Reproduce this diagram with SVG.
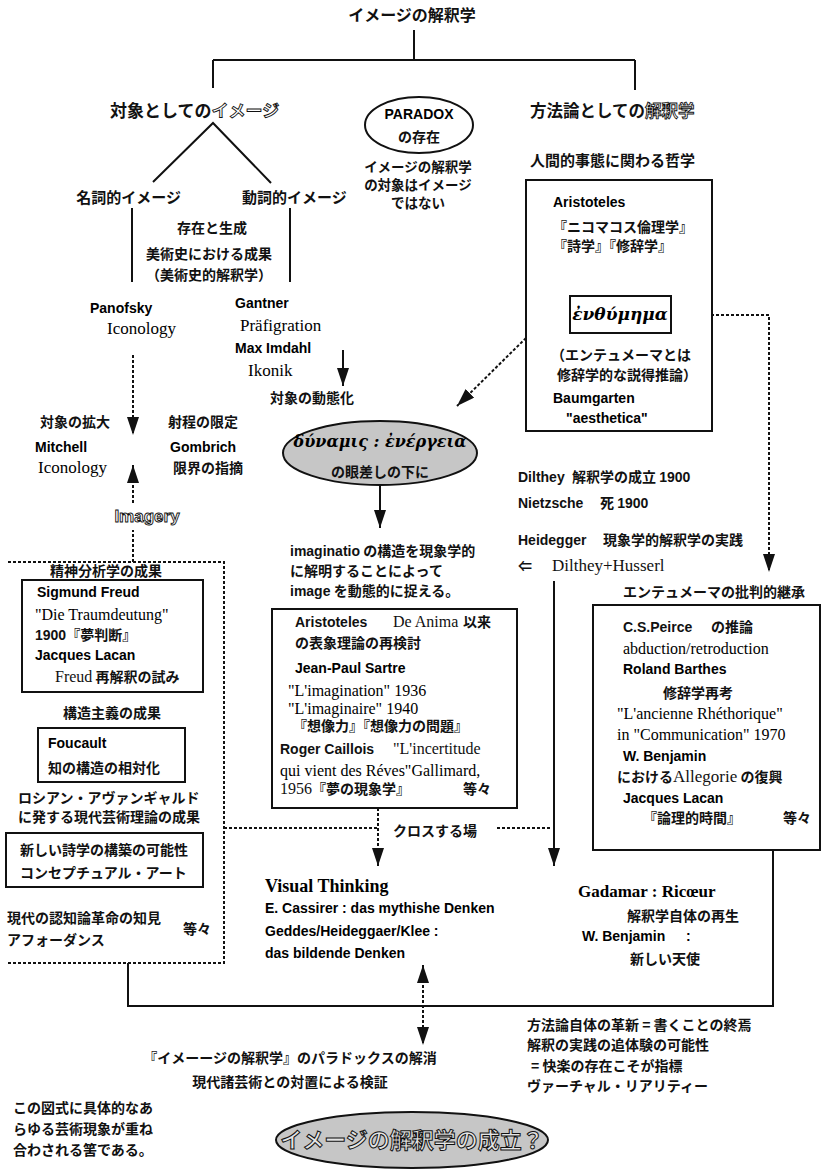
<svg xmlns="http://www.w3.org/2000/svg" width="826" height="1170" viewBox="0 0 826 1170" font-size="14">
  <defs>
    <style>
      .j { font-family: "Noto Sans CJK JP", sans-serif; font-weight: 700; fill: #111; }
      .s { font-family: "Liberation Sans", "Noto Sans CJK JP", sans-serif; font-weight: 700; }
      .r { font-family: "Liberation Serif", "Noto Sans CJK JP", serif; font-weight: 400; }
      .rb { font-family: "Liberation Serif", serif; font-weight: 700; }
      .g { font-family: "DejaVu Serif", serif; font-weight: 700; font-style: italic; }
      .o { fill: #fff; stroke: #111; stroke-width: 0.9px; }
      .oo { fill: #e4e4e4; stroke: #111; stroke-width: 1px; }
      .ln { stroke: #111; stroke-width: 2; fill: none; }
      .dt { stroke-dasharray: 3 2; }
      .box { fill: #fff; stroke: #111; stroke-width: 2; }
      .shade { fill: #c6c6c6; stroke: #111; stroke-width: 2; }
      .arr { marker-end: url(#ah); }
    </style>
    <marker id="ah" viewBox="0 0 18 12" markerWidth="18" markerHeight="12" refX="18" refY="6" orient="auto-start-reverse" markerUnits="userSpaceOnUse">
      <path d="M0,0 L18,6 L0,12 z" fill="#111"/>
    </marker>
  </defs>
  <rect width="826" height="1170" fill="#fff"/>

  <!-- connectors -->
  <g id="connectors" class="ln">
    <path d="M414,30 V60 M213,60 H635 M213,60 V88 M635,60 V90"/>
    <path d="M153,182 L213,123 L271,183"/>
    <path d="M132,208 V282 M290,208 V282"/>
    <path class="dt arr" d="M133,355 V435"/>
    <path class="arr" d="M343,350 V386"/>
    <path class="arr" d="M625,257 V295"/>
    <path class="dt arr" d="M671,315 H769 V572"/>
    <path class="dt arr" d="M526,338 L457,406"/>
    <path class="arr" d="M380,485 V528"/>
    <path class="dt" d="M133,562 V530"/>
    <path class="dt arr" d="M133,503 V465"/>
    <path class="arr" d="M554,581 V866"/>
    <path class="dt arr" d="M378,808 V866"/>
    <path class="dt" d="M224,828 H378 M497,828 H552"/>
    <path class="dt" d="M8,562 H224 V963 H8"/>
    <path d="M128,963 V1006 H773 V850"/>
    <path class="dt" d="M423,965 V1045" marker-start="url(#ah)" marker-end="url(#ah)"/>
  </g>

  <!-- title -->
  <g id="title">
    <text class="j" x="412" y="21" font-size="16" text-anchor="middle">イメージの解釈学</text>
  </g>

  <!-- image as object -->
  <g id="image-as-object">
    <text class="j" x="110" y="117" font-size="17">対象としての<tspan class="o">イメージ</tspan></text>
  </g>

  <g id="paradox">
    <ellipse class="box" cx="419" cy="125" rx="54" ry="28"/>
    <text class="s" x="419" y="119" text-anchor="middle">PARADOX</text>
    <text class="j" x="419" y="142" text-anchor="middle">の存在</text>
    <text class="j" x="418" y="172" font-size="13.5" text-anchor="middle">イメージの解釈学</text>
    <text class="j" x="418" y="190" font-size="13.5" text-anchor="middle">の対象はイメージ</text>
    <text class="j" x="418" y="208" font-size="13.5" text-anchor="middle">ではない</text>
  </g>

  <g id="hermeneutics-as-method">
    <text class="j" x="530" y="117" font-size="16.5">方法論としての<tspan class="o">解釈学</tspan></text>
    <text class="j" x="530" y="166" font-size="15">人間的事態に関わる哲学</text>
  </g>

  <g id="nominal-image">
    <text class="j" x="181" y="203" font-size="15" text-anchor="end">名詞的イメージ</text>
  </g>
  <g id="verbal-image">
    <text class="j" x="242" y="203" font-size="15">動詞的イメージ</text>
  </g>

  <g id="art-history">
    <text class="j" x="177" y="233">存在と生成</text>
    <text class="j" x="209" y="259" text-anchor="middle">美術史における成果</text>
    <text class="j" x="209" y="280" text-anchor="middle">（美術史的解釈学）</text>
  </g>

  <g id="panofsky">
    <text class="s" x="90" y="313">Panofsky</text>
    <text class="r" x="107" y="334" font-size="17">Iconology</text>
  </g>

  <g id="gantner">
    <text class="s" x="235" y="308">Gantner</text>
    <text class="r" x="240" y="331" font-size="17">Präfigration</text>
    <text class="s" x="235" y="353">Max Imdahl</text>
    <text class="r" x="248" y="376" font-size="17">Ikonik</text>
    <text class="j" x="270" y="403">対象の動態化</text>
  </g>

  <g id="mitchell-gombrich">
    <text class="j" x="40" y="427">対象の拡大</text>
    <text class="j" x="168" y="427">射程の限定</text>
    <text class="s" x="35" y="452">Mitchell</text>
    <text class="s" x="170" y="452">Gombrich</text>
    <text class="r" x="38" y="473" font-size="17">Iconology</text>
    <text class="j" x="173" y="473">限界の指摘</text>
  </g>

  <g id="imagery">
    <text class="s o" x="147" y="522" font-size="17" text-anchor="middle">Imagery</text>
  </g>

  <!-- Aristotle / enthymeme -->
  <g id="aristotle-box">
    <rect class="box" x="526" y="180" width="186" height="251"/>
    <text class="s" x="553" y="207">Aristoteles</text>
    <text class="j" x="553" y="232">『ニコマコス倫理学』</text>
    <text class="j" x="553" y="251">『詩学』『修辞学』</text>
    <text class="j" x="551" y="360">（エンテュメーマとは</text>
    <text class="j" x="557" y="380">修辞学的な説得推論）</text>
    <text class="s" x="553" y="403">Baumgarten</text>
    <text class="s" x="566" y="423">"aesthetica"</text>
  </g>
  <g id="enthymema">
    <rect class="box" x="570" y="296" width="101" height="37"/>
    <text class="g" x="620" y="320" font-size="17" text-anchor="middle">ἐνθύμημα</text>
  </g>

  <g id="dynamis">
    <ellipse class="shade" cx="380" cy="453" rx="97" ry="32"/>
    <text class="g" x="380" y="447" font-size="16" text-anchor="middle">δύναμις : ἐνέργεια</text>
    <text class="j" x="380" y="477" text-anchor="middle">の眼差しの下に</text>
  </g>

  <g id="imaginatio">
    <text class="j" x="290" y="556"><tspan class="s">imaginatio</tspan> の構造を現象学的</text>
    <text class="j" x="290" y="576">に解明することによって</text>
    <text class="j" x="290" y="596"><tspan class="s">image</tspan> を動態的に捉える。</text>
  </g>

  <g id="dilthey">
    <text class="j" x="518" y="482"><tspan class="s">Dilthey</tspan><tspan x="572">解釈学の成立</tspan> <tspan class="s">1900</tspan></text>
    <text class="j" x="518" y="508"><tspan class="s">Nietzsche</tspan><tspan x="600">死</tspan> <tspan class="s">1900</tspan></text>
    <text class="j" x="518" y="545"><tspan class="s">Heidegger</tspan><tspan x="603">現象学的解釈学の実践</tspan></text>
    <text class="j" x="518" y="571">⇐<tspan class="r" font-size="17" x="552">Dilthey+Husserl</tspan></text>
  </g>

  <g id="enthymeme-heritage">
    <text class="j" x="623" y="597">エンテュメーマの批判的継承</text>
  </g>

  <!-- left column -->
  <g id="psychoanalysis">
    <text class="j" x="50" y="576">精神分析学の成果</text>
    <rect class="box" x="22" y="580" width="181" height="112"/>
    <text class="s" x="37" y="597">Sigmund Freud</text>
    <text class="r" x="35" y="620" font-size="16">"Die Traumdeutung"</text>
    <text class="j" x="35" y="640"><tspan class="s">1900</tspan>『夢判断』</text>
    <text class="s" x="35" y="660">Jacques Lacan</text>
    <text class="j" x="55" y="682"><tspan class="r" font-size="16">Freud</tspan> 再解釈の試み</text>
  </g>

  <g id="structuralism">
    <text class="j" x="63" y="718">構造主義の成果</text>
    <rect class="box" x="38" y="728" width="147" height="54"/>
    <text class="s" x="48" y="748">Foucault</text>
    <text class="j" x="48" y="773">知の構造の相対化</text>
  </g>

  <g id="avant-garde">
    <text class="j" x="18" y="803">ロシアン・アヴァンギャルド</text>
    <text class="j" x="18" y="822">に発する現代芸術理論の成果</text>
    <rect class="box" x="6" y="833" width="197" height="54"/>
    <text class="j" x="20" y="855">新しい詩学の構築の可能性</text>
    <text class="j" x="20" y="878">コンセプチュアル・アート</text>
  </g>

  <g id="cognition">
    <text class="j" x="7" y="923">現代の認知論革命の知見</text>
    <text class="j" x="7" y="945">アフォーダンス</text>
    <text class="j" x="183" y="934">等々</text>
  </g>

  <!-- De Anima box -->
  <g id="de-anima">
    <rect class="box" x="272" y="609" width="245" height="199"/>
    <text class="j" x="295" y="627"><tspan class="s">Aristoteles</tspan><tspan class="r" font-size="16" x="393">De Anima</tspan><tspan x="463">以来</tspan></text>
    <text class="j" x="295" y="648">の表象理論の再検討</text>
    <text class="s" x="295" y="673">Jean-Paul Sartre</text>
    <text class="r" x="288" y="696" font-size="16">"L'imagination" 1936</text>
    <text class="r" x="288" y="714" font-size="16">"L'imaginaire" 1940</text>
    <text class="j" x="293" y="731">『想像力』『想像力の問題』</text>
    <text class="j" x="280" y="754"><tspan class="s">Roger Caillois</tspan><tspan class="r" font-size="16" x="393">"L'incertitude</tspan></text>
    <text class="r" x="280" y="776" font-size="16">qui vient des Réves"Gallimard,</text>
    <text class="j" x="280" y="794"><tspan class="r" font-size="16">1956</tspan>『夢の現象学』</text>
    <text class="j" x="463" y="794">等々</text>
  </g>

  <g id="crossing">
    <text class="j" x="393" y="836">クロスする場</text>
  </g>

  <!-- Peirce box -->
  <g id="peirce">
    <rect class="box" x="593" y="605" width="227" height="245"/>
    <text class="j" x="623" y="632"><tspan class="s">C.S.Peirce</tspan><tspan x="711">の推論</tspan></text>
    <text class="r" x="623" y="654" font-size="16">abduction/retroduction</text>
    <text class="s" x="623" y="674">Roland Barthes</text>
    <text class="j" x="663" y="698">修辞学再考</text>
    <text class="r" x="617" y="719" font-size="16">"L'ancienne Rhéthorique"</text>
    <text class="r" x="617" y="740" font-size="16">in "Communication" 1970</text>
    <text class="s" x="623" y="761">W. Benjamin</text>
    <text class="j" x="617" y="782">における<tspan class="r" font-size="17">Allegorie</tspan> の復興</text>
    <text class="s" x="623" y="803">Jacques Lacan</text>
    <text class="j" x="643" y="823">『論理的時間』</text>
    <text class="j" x="783" y="823">等々</text>
  </g>

  <g id="visual-thinking">
    <text class="rb" x="265" y="892" font-size="18">Visual Thinking</text>
    <text class="s" x="265" y="913">E. Cassirer : das mythishe Denken</text>
    <text class="s" x="265" y="936">Geddes/Heideggaer/Klee :</text>
    <text class="s" x="265" y="958">das bildende Denken</text>
  </g>

  <g id="gadamer">
    <text class="rb" x="578" y="897" font-size="17">Gadamar : Ricœur</text>
    <text class="j" x="627" y="921">解釈学自体の再生</text>
    <text class="s" x="582" y="941">W. Benjamin<tspan x="686">:</tspan></text>
    <text class="j" x="630" y="964">新しい天使</text>
  </g>

  <g id="method-renewal">
    <text class="j" x="527" y="1030">方法論自体の革新 = 書くことの終焉</text>
    <text class="j" x="527" y="1050">解釈の実践の追体験の可能性</text>
    <text class="j" x="531" y="1071">= 快楽の存在こそが指標</text>
    <text class="j" x="527" y="1091">ヴァーチャル・リアリティー</text>
  </g>

  <g id="paradox-resolution">
    <text class="j" x="290" y="1063" text-anchor="middle">『イメーージの解釈学』のパラドックスの解消</text>
    <text class="j" x="290" y="1087" text-anchor="middle">現代諸芸術との対置による検証</text>
  </g>

  <g id="note">
    <text class="j" x="13" y="1113">この図式に具体的なあ</text>
    <text class="j" x="13" y="1134">らゆる芸術現象が重ね</text>
    <text class="j" x="13" y="1155">合わされる筈である。</text>
  </g>

  <g id="conclusion">
    <ellipse class="shade" cx="412" cy="1140" rx="136" ry="28"/>
    <text class="j oo" x="412" y="1148" font-size="22" text-anchor="middle">イメージの解釈学の成立？</text>
  </g>
</svg>
